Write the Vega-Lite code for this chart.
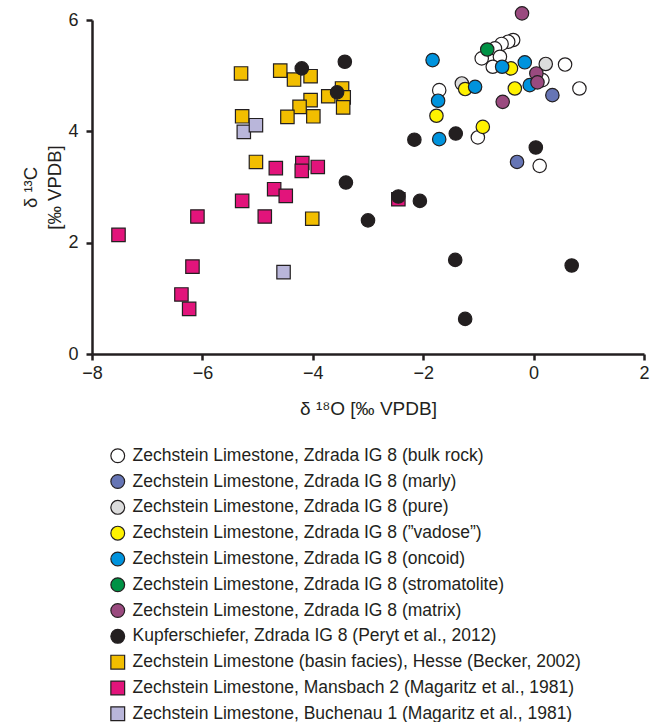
{
  "$schema": "https://vega.github.io/schema/vega-lite/v6.json",
  "width": 552,
  "height": 334,
  "autosize": {"type": "none"},
  "padding": {"left": 92, "top": 20, "right": 8, "bottom": 368},
  "background": "white",
  "config": {"view": {"stroke": null}, "font": "Liberation Sans"},
  "data": {"values": [
    {"g": "Zechstein Limestone (basin facies), Hesse (Becker, 2002)", "x": -5.30, "y": 5.04},
    {"g": "Zechstein Limestone (basin facies), Hesse (Becker, 2002)", "x": -4.59, "y": 5.09},
    {"g": "Zechstein Limestone (basin facies), Hesse (Becker, 2002)", "x": -4.34, "y": 4.93},
    {"g": "Zechstein Limestone (basin facies), Hesse (Becker, 2002)", "x": -4.04, "y": 4.99},
    {"g": "Zechstein Limestone (basin facies), Hesse (Becker, 2002)", "x": -5.28, "y": 4.27},
    {"g": "Zechstein Limestone (basin facies), Hesse (Becker, 2002)", "x": -4.04, "y": 4.56},
    {"g": "Zechstein Limestone (basin facies), Hesse (Becker, 2002)", "x": -4.24, "y": 4.44},
    {"g": "Zechstein Limestone (basin facies), Hesse (Becker, 2002)", "x": -4.46, "y": 4.26},
    {"g": "Zechstein Limestone (basin facies), Hesse (Becker, 2002)", "x": -3.99, "y": 4.27},
    {"g": "Zechstein Limestone (basin facies), Hesse (Becker, 2002)", "x": -3.72, "y": 4.63},
    {"g": "Zechstein Limestone (basin facies), Hesse (Becker, 2002)", "x": -3.47, "y": 4.77},
    {"g": "Zechstein Limestone (basin facies), Hesse (Becker, 2002)", "x": -3.44, "y": 4.61},
    {"g": "Zechstein Limestone (basin facies), Hesse (Becker, 2002)", "x": -3.45, "y": 4.43},
    {"g": "Zechstein Limestone (basin facies), Hesse (Becker, 2002)", "x": -5.03, "y": 3.45},
    {"g": "Zechstein Limestone (basin facies), Hesse (Becker, 2002)", "x": -4.01, "y": 2.43},
    {"g": "Zechstein Limestone, Mansbach 2 (Magaritz et al., 1981)", "x": -7.52, "y": 2.14},
    {"g": "Zechstein Limestone, Mansbach 2 (Magaritz et al., 1981)", "x": -6.09, "y": 2.47},
    {"g": "Zechstein Limestone, Mansbach 2 (Magaritz et al., 1981)", "x": -6.18, "y": 1.57},
    {"g": "Zechstein Limestone, Mansbach 2 (Magaritz et al., 1981)", "x": -6.38, "y": 1.07},
    {"g": "Zechstein Limestone, Mansbach 2 (Magaritz et al., 1981)", "x": -6.24, "y": 0.81},
    {"g": "Zechstein Limestone, Mansbach 2 (Magaritz et al., 1981)", "x": -5.28, "y": 2.75},
    {"g": "Zechstein Limestone, Mansbach 2 (Magaritz et al., 1981)", "x": -4.87, "y": 2.47},
    {"g": "Zechstein Limestone, Mansbach 2 (Magaritz et al., 1981)", "x": -4.70, "y": 2.96},
    {"g": "Zechstein Limestone, Mansbach 2 (Magaritz et al., 1981)", "x": -4.49, "y": 2.84},
    {"g": "Zechstein Limestone, Mansbach 2 (Magaritz et al., 1981)", "x": -4.67, "y": 3.34},
    {"g": "Zechstein Limestone, Mansbach 2 (Magaritz et al., 1981)", "x": -4.19, "y": 3.43},
    {"g": "Zechstein Limestone, Mansbach 2 (Magaritz et al., 1981)", "x": -4.20, "y": 3.29},
    {"g": "Zechstein Limestone, Mansbach 2 (Magaritz et al., 1981)", "x": -3.91, "y": 3.36},
    {"g": "Zechstein Limestone, Mansbach 2 (Magaritz et al., 1981)", "x": -2.45, "y": 2.78},
    {"g": "Zechstein Limestone, Buchenau 1 (Magaritz et al., 1981)", "x": -5.25, "y": 3.99},
    {"g": "Zechstein Limestone, Buchenau 1 (Magaritz et al., 1981)", "x": -5.03, "y": 4.11},
    {"g": "Zechstein Limestone, Buchenau 1 (Magaritz et al., 1981)", "x": -4.53, "y": 1.47},
    {"g": "Zechstein Limestone, Zdrada IG 8 (bulk rock)", "x": -0.37, "y": 5.64},
    {"g": "Zechstein Limestone, Zdrada IG 8 (bulk rock)", "x": -0.46, "y": 5.61},
    {"g": "Zechstein Limestone, Zdrada IG 8 (bulk rock)", "x": -0.58, "y": 5.57},
    {"g": "Zechstein Limestone, Zdrada IG 8 (bulk rock)", "x": -0.70, "y": 5.49},
    {"g": "Zechstein Limestone, Zdrada IG 8 (bulk rock)", "x": -0.61, "y": 5.34},
    {"g": "Zechstein Limestone, Zdrada IG 8 (bulk rock)", "x": -0.94, "y": 5.31},
    {"g": "Zechstein Limestone, Zdrada IG 8 (bulk rock)", "x": -0.74, "y": 5.16},
    {"g": "Zechstein Limestone, Zdrada IG 8 (bulk rock)", "x": 0.57, "y": 5.20},
    {"g": "Zechstein Limestone, Zdrada IG 8 (bulk rock)", "x": 0.16, "y": 4.92},
    {"g": "Zechstein Limestone, Zdrada IG 8 (bulk rock)", "x": 0.83, "y": 4.77},
    {"g": "Zechstein Limestone, Zdrada IG 8 (bulk rock)", "x": -1.71, "y": 4.74},
    {"g": "Zechstein Limestone, Zdrada IG 8 (bulk rock)", "x": -1.01, "y": 3.89},
    {"g": "Zechstein Limestone, Zdrada IG 8 (bulk rock)", "x": 0.11, "y": 3.38},
    {"g": "Zechstein Limestone, Zdrada IG 8 (pure)", "x": 0.22, "y": 5.21},
    {"g": "Zechstein Limestone, Zdrada IG 8 (pure)", "x": -1.30, "y": 4.86},
    {"g": "Zechstein Limestone, Zdrada IG 8 (marly)", "x": 0.34, "y": 4.65},
    {"g": "Zechstein Limestone, Zdrada IG 8 (marly)", "x": -0.30, "y": 3.45},
    {"g": "Zechstein Limestone, Zdrada IG 8 (”vadose”)", "x": -0.41, "y": 5.13},
    {"g": "Zechstein Limestone, Zdrada IG 8 (”vadose”)", "x": -1.24, "y": 4.76},
    {"g": "Zechstein Limestone, Zdrada IG 8 (”vadose”)", "x": -0.34, "y": 4.77},
    {"g": "Zechstein Limestone, Zdrada IG 8 (”vadose”)", "x": -1.76, "y": 4.28},
    {"g": "Zechstein Limestone, Zdrada IG 8 (”vadose”)", "x": -0.92, "y": 4.08},
    {"g": "Zechstein Limestone, Zdrada IG 8 (oncoid)", "x": -1.83, "y": 5.28},
    {"g": "Zechstein Limestone, Zdrada IG 8 (oncoid)", "x": -0.57, "y": 5.16},
    {"g": "Zechstein Limestone, Zdrada IG 8 (oncoid)", "x": -0.16, "y": 5.24},
    {"g": "Zechstein Limestone, Zdrada IG 8 (oncoid)", "x": -1.06, "y": 4.80},
    {"g": "Zechstein Limestone, Zdrada IG 8 (oncoid)", "x": -0.07, "y": 4.83},
    {"g": "Zechstein Limestone, Zdrada IG 8 (oncoid)", "x": -1.73, "y": 4.55},
    {"g": "Zechstein Limestone, Zdrada IG 8 (oncoid)", "x": -1.71, "y": 3.86},
    {"g": "Zechstein Limestone, Zdrada IG 8 (stromatolite)", "x": -0.84, "y": 5.47},
    {"g": "Zechstein Limestone, Zdrada IG 8 (matrix)", "x": -0.21, "y": 6.12},
    {"g": "Zechstein Limestone, Zdrada IG 8 (matrix)", "x": 0.05, "y": 5.04},
    {"g": "Zechstein Limestone, Zdrada IG 8 (matrix)", "x": 0.07, "y": 4.88},
    {"g": "Zechstein Limestone, Zdrada IG 8 (matrix)", "x": -0.56, "y": 4.53},
    {"g": "Kupferschiefer, Zdrada IG 8 (Peryt et al., 2012)", "x": -4.20, "y": 5.13},
    {"g": "Kupferschiefer, Zdrada IG 8 (Peryt et al., 2012)", "x": -3.42, "y": 5.25},
    {"g": "Kupferschiefer, Zdrada IG 8 (Peryt et al., 2012)", "x": -3.56, "y": 4.70},
    {"g": "Kupferschiefer, Zdrada IG 8 (Peryt et al., 2012)", "x": -3.40, "y": 3.08},
    {"g": "Kupferschiefer, Zdrada IG 8 (Peryt et al., 2012)", "x": -3.00, "y": 2.40},
    {"g": "Kupferschiefer, Zdrada IG 8 (Peryt et al., 2012)", "x": -2.45, "y": 2.83},
    {"g": "Kupferschiefer, Zdrada IG 8 (Peryt et al., 2012)", "x": -2.06, "y": 2.75},
    {"g": "Kupferschiefer, Zdrada IG 8 (Peryt et al., 2012)", "x": -2.16, "y": 3.85},
    {"g": "Kupferschiefer, Zdrada IG 8 (Peryt et al., 2012)", "x": -1.41, "y": 3.96},
    {"g": "Kupferschiefer, Zdrada IG 8 (Peryt et al., 2012)", "x": -1.42, "y": 1.69},
    {"g": "Kupferschiefer, Zdrada IG 8 (Peryt et al., 2012)", "x": -1.24, "y": 0.63},
    {"g": "Kupferschiefer, Zdrada IG 8 (Peryt et al., 2012)", "x": 0.04, "y": 3.71},
    {"g": "Kupferschiefer, Zdrada IG 8 (Peryt et al., 2012)", "x": 0.69, "y": 1.59}
  ]},
  "mark": {"type": "point", "filled": true, "size": 180, "strokeWidth": 1.2, "opacity": 1},
  "encoding": {
    "x": {
      "field": "x", "type": "quantitative",
      "scale": {"domain": [-8, 2], "nice": false, "zero": false},
      "axis": {
        "title": "δ ¹⁸O [‰ VPDB]", "values": [-8, -6, -4, -2, 0, 2], "grid": false, "labelFlush": false,
        "domainColor": "#231f20", "domainWidth": 2.5, "tickColor": "#231f20", "tickWidth": 2.5, "tickSize": 6,
        "labelFontSize": 18, "labelColor": "#231f20", "labelPadding": 4, "labelFont": "Liberation Sans",
        "titleFontSize": 19, "titleFontWeight": "normal", "titleColor": "#231f20", "titlePadding": 17, "titleFont": "Liberation Sans"
      }
    },
    "y": {
      "field": "y", "type": "quantitative",
      "scale": {"domain": [0, 6], "nice": false, "zero": false},
      "axis": {
        "title": ["δ ¹³C", "[‰ VPDB]"], "values": [0, 2, 4, 6], "grid": false, "labelFlush": false,
        "domainColor": "#231f20", "domainWidth": 2.5, "tickColor": "#231f20", "tickWidth": 2.5, "tickSize": 6,
        "labelFontSize": 18, "labelColor": "#231f20", "labelPadding": 8, "labelFont": "Liberation Sans",
        "titleFontSize": 18.5, "titleFontWeight": "normal", "titleColor": "#231f20", "titlePadding": 3, "titleLineHeight": 24, "titleFont": "Liberation Sans"
      }
    },
    "fill": {
      "field": "g", "type": "nominal",
      "scale": {
        "domain": [
          "Zechstein Limestone, Zdrada IG 8 (bulk rock)",
          "Zechstein Limestone, Zdrada IG 8 (marly)",
          "Zechstein Limestone, Zdrada IG 8 (pure)",
          "Zechstein Limestone, Zdrada IG 8 (”vadose”)",
          "Zechstein Limestone, Zdrada IG 8 (oncoid)",
          "Zechstein Limestone, Zdrada IG 8 (stromatolite)",
          "Zechstein Limestone, Zdrada IG 8 (matrix)",
          "Kupferschiefer, Zdrada IG 8 (Peryt et al., 2012)",
          "Zechstein Limestone (basin facies), Hesse (Becker, 2002)",
          "Zechstein Limestone, Mansbach 2 (Magaritz et al., 1981)",
          "Zechstein Limestone, Buchenau 1 (Magaritz et al., 1981)"
        ],
        "range": ["#ffffff", "#6675b5", "#dcdcdc", "#fff200", "#0093dd", "#009245", "#9a4a7f", "#231f20", "#f2be00", "#e2147b", "#b9b6da"]
      },
      "legend": {
        "orient": "none", "legendX": 17, "legendY": 427, "title": null, "padding": 0,
        "labelFontSize": 17.5, "labelFont": "Liberation Sans", "labelColor": "#231f20", "labelLimit": 600, "labelOffset": 6,
        "symbolStrokeWidth": 1.2, "symbolSize": 190, "rowPadding": 5.8
      }
    },
    "stroke": {
      "field": "g", "type": "nominal",
      "scale": {
        "domain": [
          "Zechstein Limestone, Zdrada IG 8 (bulk rock)",
          "Zechstein Limestone, Zdrada IG 8 (marly)",
          "Zechstein Limestone, Zdrada IG 8 (pure)",
          "Zechstein Limestone, Zdrada IG 8 (”vadose”)",
          "Zechstein Limestone, Zdrada IG 8 (oncoid)",
          "Zechstein Limestone, Zdrada IG 8 (stromatolite)",
          "Zechstein Limestone, Zdrada IG 8 (matrix)",
          "Kupferschiefer, Zdrada IG 8 (Peryt et al., 2012)",
          "Zechstein Limestone (basin facies), Hesse (Becker, 2002)",
          "Zechstein Limestone, Mansbach 2 (Magaritz et al., 1981)",
          "Zechstein Limestone, Buchenau 1 (Magaritz et al., 1981)"
        ],
        "range": ["#231f20", "#231f20", "#231f20", "#231f20", "#231f20", "#231f20", "#231f20", "#231f20", "#231f20", "#231f20", "#231f20"]
      },
      "legend": {
        "orient": "none", "legendX": 17, "legendY": 427, "title": null, "padding": 0,
        "labelFontSize": 17.5, "labelFont": "Liberation Sans", "labelColor": "#231f20", "labelLimit": 600, "labelOffset": 6,
        "symbolStrokeWidth": 1.2, "symbolSize": 190, "rowPadding": 5.8
      }
    },
    "shape": {
      "field": "g", "type": "nominal",
      "scale": {
        "domain": [
          "Zechstein Limestone, Zdrada IG 8 (bulk rock)",
          "Zechstein Limestone, Zdrada IG 8 (marly)",
          "Zechstein Limestone, Zdrada IG 8 (pure)",
          "Zechstein Limestone, Zdrada IG 8 (”vadose”)",
          "Zechstein Limestone, Zdrada IG 8 (oncoid)",
          "Zechstein Limestone, Zdrada IG 8 (stromatolite)",
          "Zechstein Limestone, Zdrada IG 8 (matrix)",
          "Kupferschiefer, Zdrada IG 8 (Peryt et al., 2012)",
          "Zechstein Limestone (basin facies), Hesse (Becker, 2002)",
          "Zechstein Limestone, Mansbach 2 (Magaritz et al., 1981)",
          "Zechstein Limestone, Buchenau 1 (Magaritz et al., 1981)"
        ],
        "range": ["circle", "circle", "circle", "circle", "circle", "circle", "circle", "circle", "square", "square", "square"]
      },
      "legend": {
        "orient": "none", "legendX": 17, "legendY": 427, "title": null, "padding": 0,
        "labelFontSize": 17.5, "labelFont": "Liberation Sans", "labelColor": "#231f20", "labelLimit": 600, "labelOffset": 6,
        "symbolStrokeWidth": 1.2, "symbolSize": 190, "rowPadding": 5.8
      }
    }
  }
}
